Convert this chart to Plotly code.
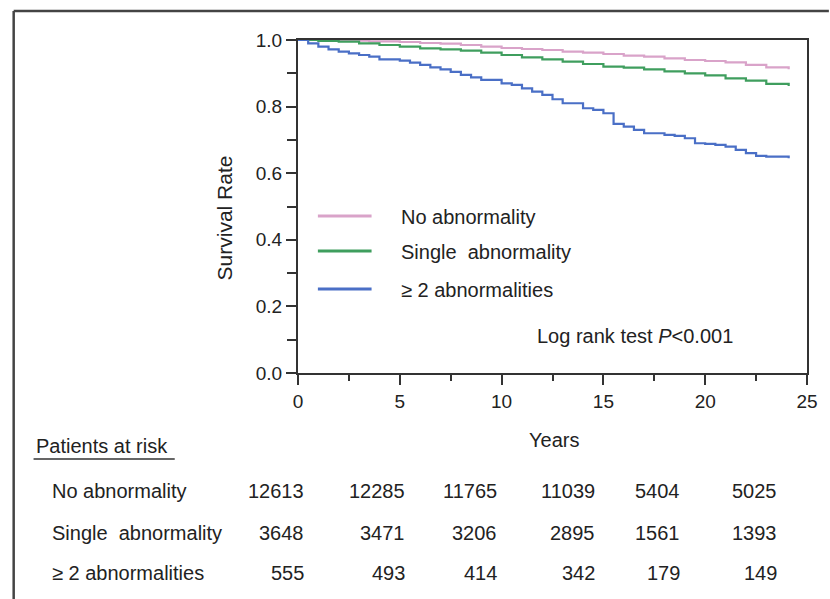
import plotly.graph_objects as go

# ---------------- data ----------------
years_none = [0, 2, 3.5, 5, 6, 7, 8, 9, 10, 11, 12, 13, 14, 15, 16, 17, 18, 19, 20, 21, 22, 23, 24.1]
surv_none = [1.0, 0.998, 0.996, 0.994, 0.991, 0.989, 0.985, 0.980, 0.976, 0.973, 0.970, 0.965, 0.962, 0.958, 0.953, 0.950, 0.945, 0.940, 0.937, 0.933, 0.925, 0.918, 0.912]

years_single = [0, 1, 2, 3, 4, 5, 6, 7, 8, 9, 10, 11, 12, 13, 14, 15, 16, 17, 18, 19, 20, 21, 22, 23, 24.1]
surv_single = [1.0, 0.997, 0.995, 0.990, 0.985, 0.980, 0.975, 0.972, 0.968, 0.962, 0.955, 0.948, 0.942, 0.935, 0.928, 0.920, 0.917, 0.912, 0.906, 0.900, 0.894, 0.885, 0.878, 0.868, 0.862]

years_multi = [0, 0.5, 1, 1.5, 2, 2.5, 3, 3.5, 4, 5, 5.5, 6, 6.5, 7, 7.5, 8, 8.5, 9, 10, 10.5, 11, 11.5, 12, 12.5, 13, 14, 14.5, 15, 15.5, 16, 16.5, 17, 18, 18.5, 19, 19.5, 20, 20.5, 21, 21.5, 22, 22.5, 23, 24.1]
surv_multi = [1.0, 0.990, 0.980, 0.972, 0.965, 0.960, 0.955, 0.950, 0.942, 0.938, 0.932, 0.925, 0.918, 0.912, 0.904, 0.895, 0.888, 0.880, 0.870, 0.865, 0.855, 0.845, 0.835, 0.822, 0.810, 0.795, 0.790, 0.780, 0.748, 0.740, 0.730, 0.720, 0.715, 0.712, 0.705, 0.690, 0.688, 0.685, 0.680, 0.670, 0.660, 0.652, 0.650, 0.645]

series_names = ["No abnormality", "Single  abnormality", "\u2265 2 abnormalities"]
series_colors = ["#d9a3c9", "#3f9e5e", "#4a6fc6"]

risk_none = [12613, 12285, 11765, 11039, 5404, 5025]
risk_single = [3648, 3471, 3206, 2895, 1561, 1393]
risk_multi = [555, 493, 414, 342, 179, 149]

x_ticks = [0, 5, 10, 15, 20, 25]
y_ticks = [0.0, 0.2, 0.4, 0.6, 0.8, 1.0]

# ---------------- layout geometry (pixels) ----------------
W, H = 830, 599
PL, PR, PT, PB = 298, 810, 40, 373
FONT = "Liberation Sans, Arial, sans-serif"
TXT = "#222222"
LINE = "#333333"
FS = 20


def px(x):
    return (x - PL) / (PR - PL)


def py(y):
    return (PB - y) / (PB - PT)


fig = go.Figure()
for xs, ys, name, col in zip(
    [years_none, years_single, years_multi],
    [surv_none, surv_single, surv_multi],
    series_names,
    series_colors,
):
    fig.add_trace(
        go.Scatter(x=xs, y=ys, mode="lines", name=name, line=dict(color=col, width=2.2, shape="hv"), showlegend=False)
    )

shapes = []
annotations = []

# outer frame (top and left edges)
shapes.append(dict(type="line", xref="paper", yref="paper", x0=px(12), x1=px(832), y0=py(11), y1=py(11),
                   line=dict(color="#444444", width=2.5)))
shapes.append(dict(type="line", xref="paper", yref="paper", x0=px(12), x1=px(12), y0=py(11), y1=py(601),
                   line=dict(color="#444444", width=2.5)))

# custom legend
leg_y = [216, 251, 289]
for name, col, yy in zip(series_names, series_colors, leg_y):
    shapes.append(dict(type="line", xref="paper", yref="paper", x0=px(318), x1=px(372), y0=py(yy), y1=py(yy),
                       line=dict(color=col, width=3)))
    annotations.append(dict(xref="paper", yref="paper", x=px(400), y=py(yy + 1), text=name, showarrow=False,
                            xanchor="left", yanchor="middle", font=dict(family=FONT, size=FS, color=TXT)))

annotations.append(dict(xref="paper", yref="paper", x=px(637), y=py(336), text="Log rank test <i>P</i>&lt;0.001",
                        showarrow=False, xanchor="center", yanchor="middle",
                        font=dict(family=FONT, size=FS, color=TXT)))

# y-axis title
annotations.append(dict(xref="paper", yref="paper", x=px(225), y=py(218), text="Survival Rate", textangle=-90,
                        showarrow=False, xanchor="center", yanchor="middle",
                        font=dict(family=FONT, size=21, color=TXT)))

# x-axis title
annotations.append(dict(xref="paper", yref="paper", x=px(556), y=py(440), text="Years", showarrow=False,
                        xanchor="center", yanchor="middle", font=dict(family=FONT, size=FS, color=TXT)))

# patients at risk table
annotations.append(dict(xref="paper", yref="paper", x=px(32), y=py(446), text="Patients at risk", showarrow=False,
                        xanchor="left", yanchor="middle", font=dict(family=FONT, size=FS, color=TXT)))
shapes.append(dict(type="line", xref="paper", yref="paper", x0=px(32), x1=px(174), y0=py(459), y1=py(459),
                   line=dict(color="#333333", width=1.5)))

col_right = [306, 408, 500, 599, 684, 782]
row_y = [491, 533, 573]
for name, row, yy in zip(series_names, [risk_none, risk_single, risk_multi], row_y):
    annotations.append(dict(xref="paper", yref="paper", x=px(49), y=py(yy), text=name, showarrow=False,
                            xanchor="left", yanchor="middle", font=dict(family=FONT, size=FS, color=TXT)))
    for v, xr in zip(row, col_right):
        annotations.append(dict(xref="paper", yref="paper", x=px(xr), y=py(yy), text=str(v), showarrow=False,
                                xanchor="right", yanchor="middle", font=dict(family=FONT, size=FS, color=TXT)))

fig.update_layout(
    width=W, height=H,
    margin=dict(l=PL, r=W - PR, t=PT, b=H - PB, pad=0),
    paper_bgcolor="white", plot_bgcolor="white",
    font=dict(family=FONT, size=FS, color=TXT),
    shapes=shapes, annotations=annotations,
    showlegend=False,
)
fig.update_xaxes(
    range=[0, 25], tickvals=x_ticks, ticktext=[str(t) for t in x_ticks],
    ticks="outside", ticklen=10, tickwidth=2, tickcolor=LINE,
    minor=dict(dtick=2.5, tick0=0, ticks="outside", ticklen=6, tickwidth=2, tickcolor=LINE),
    showline=True, linewidth=2, linecolor=LINE, mirror=True, showgrid=False, zeroline=False,
    tickfont=dict(family=FONT, size=19, color=TXT),
)
fig.update_yaxes(
    range=[0, 1], tickvals=y_ticks, ticktext=[f"{t:.1f}" for t in y_ticks],
    ticks="outside", ticklen=10, tickwidth=2, tickcolor=LINE,
    minor=dict(dtick=0.1, tick0=0, ticks="outside", ticklen=9, tickwidth=2, tickcolor=LINE),
    showline=True, linewidth=2, linecolor=LINE, mirror=True, showgrid=False, zeroline=False,
    tickfont=dict(family=FONT, size=19, color=TXT),
)

fig.write_html(
    "out.html",
    config={"displayModeBar": False, "staticPlot": True},
    post_script="document.body.style.margin='0';document.body.style.padding='0';document.body.style.overflow='hidden';",
)
